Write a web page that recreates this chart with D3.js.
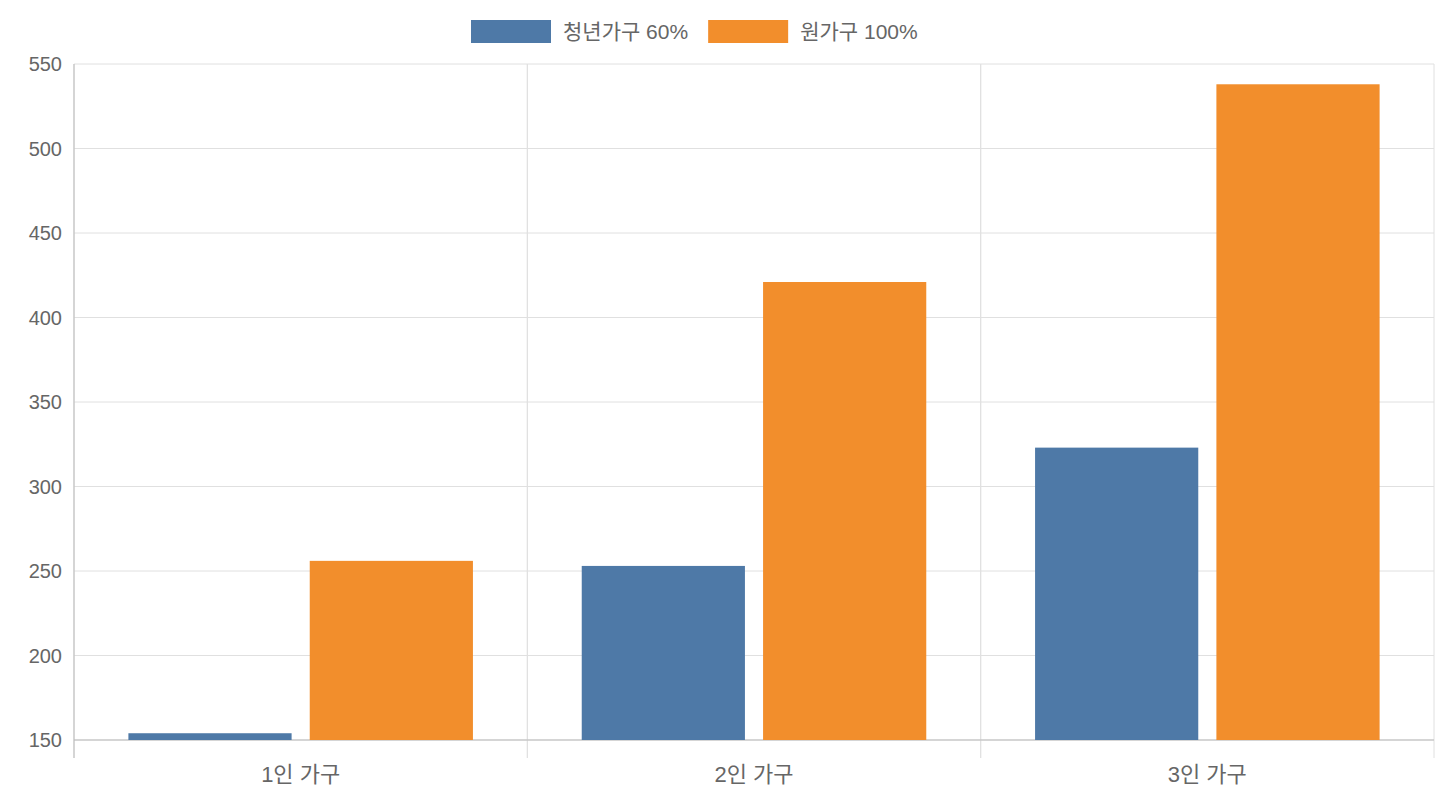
<!DOCTYPE html>
<html><head><meta charset="utf-8">
<script src="https://cdn.jsdelivr.net/npm/d3@7"></script>
<style>body{margin:0;background:#fff}text{font-family:"Liberation Sans","Noto Sans CJK KR",sans-serif;fill:#666}</style>
</head><body><svg id="c" width="1440" height="800"></svg>
<script>
const categories=["1인 가구","2인 가구","3인 가구"];
const seriesNames=["청년가구 60%","원가구 100%"];
const youth=[154,253,323];
const original=[256,421,538];
const yTicks=[150,200,250,300,350,400,450,500,550];
const colors=["#4e79a7","#f28e2c"];

const svg=d3.select("#c");
const L=74,R=1434,T=64,B=740;
const x=d3.scaleBand().domain(categories).range([L,R]);
const xi=d3.scaleBand().domain([0,1]).range([0,x.bandwidth()*0.8]).paddingInner(0.1).paddingOuter(0.05);
const y=d3.scaleLinear().domain([150,550]).range([B,T]);

const g=svg.append("g");
yTicks.forEach(t=>{
 g.append("line").attr("x1",L).attr("x2",R).attr("y1",y(t)).attr("y2",y(t)).attr("stroke","#e0e0e0");
 g.append("text").attr("x",L-12).attr("y",y(t)).attr("dy","0.35em").attr("text-anchor","end").attr("font-size",20).text(t);
});
categories.forEach((c,i)=>{
 [x(c),x(c)+x.bandwidth()].forEach(v=>g.append("line").attr("x1",v).attr("x2",v).attr("y1",T).attr("y2",B+18).attr("stroke","#e0e0e0"));
 g.append("text").attr("x",x(c)+x.bandwidth()/2).attr("y",B+42).attr("text-anchor","middle").attr("font-size",22).text(c);
});
g.append("line").attr("x1",L).attr("x2",L).attr("y1",T).attr("y2",B+18).attr("stroke","#bbb");
g.append("line").attr("x1",L).attr("x2",R).attr("y1",B).attr("y2",B).attr("stroke","#bbb");

[youth,original].forEach((vals,s)=>{
 svg.append("g").selectAll("rect").data(vals).join("rect")
  .attr("x",(d,i)=>x(categories[i])+x.bandwidth()*0.1+xi(s)-xi.step()*0.05+xi.step()*0.05)
  .attr("width",xi.bandwidth())
  .attr("y",d=>y(d)).attr("height",d=>B-y(d)).attr("fill",colors[s]);
});

const lg=svg.append("g");
let lx=471;
seriesNames.forEach((n,i)=>{
 lg.append("rect").attr("x",lx).attr("y",20).attr("width",80).attr("height",23).attr("fill",colors[i]);
 const t=lg.append("text").attr("x",lx+92).attr("y",32).attr("dy","0.35em").attr("font-size",21).text(n);
 lx+=92+t.node().getComputedTextLength()+20;
});
</script></body></html>
